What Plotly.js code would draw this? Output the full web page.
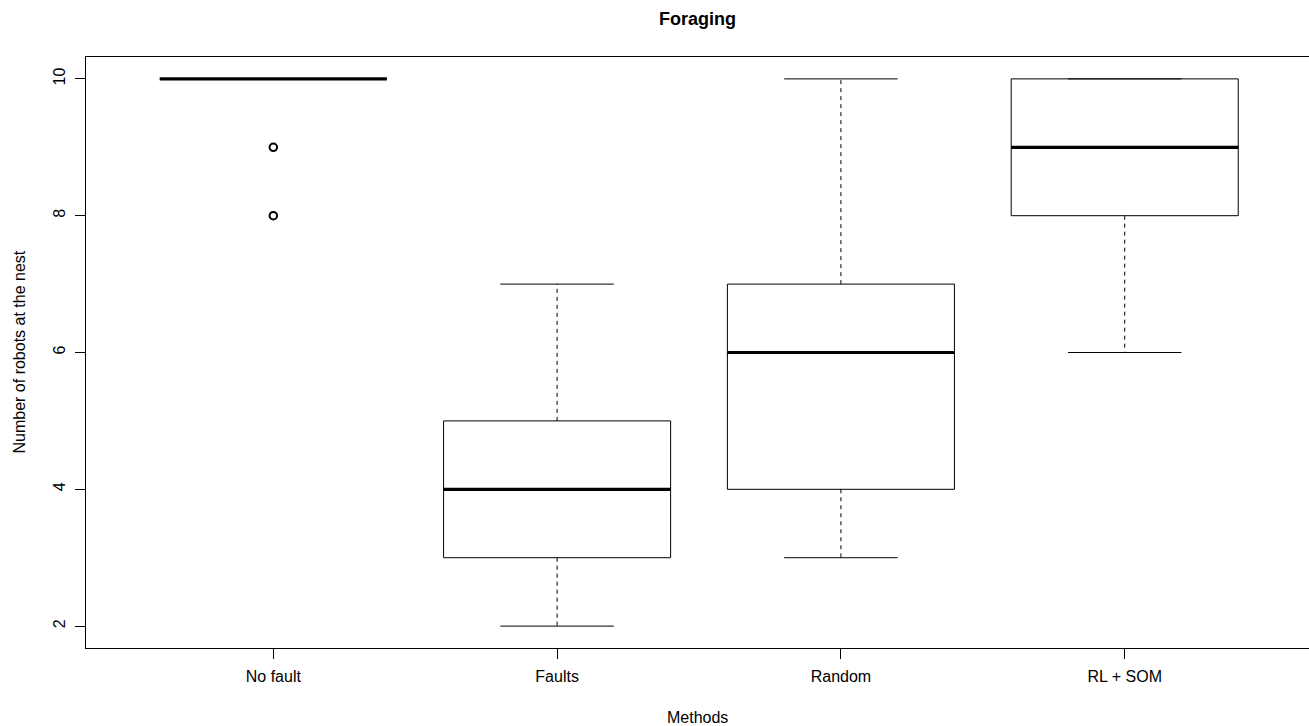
<!DOCTYPE html>
<html>
<head>
<meta charset="utf-8">
<script src="https://cdn.plot.ly/plotly-3.0.1.min.js"></script>
<style>
  html, body { margin: 0; padding: 0; background: #fff; }
  #chart { width: 1309px; height: 726px; }
</style>
</head>
<body>
<div id="chart"></div>
<script>
// Five-number summaries of robots at the nest, per method
const methods = ['No fault', 'Faults', 'Random', 'RL + SOM'];
const lowerWhisker = [10, 2, 3, 6];
const q1 = [10, 3, 4, 8];
const median = [10, 4, 6, 9];
const q3 = [10, 5, 7, 10];
const upperWhisker = [10, 7, 10, 10];

// Points beyond the whiskers
const outlierMethod = ['No fault', 'No fault'];
const outlierValue = [9, 8];

const yTicks = [2, 4, 6, 8, 10];

const FONT = 'Liberation Sans, Arial, Helvetica, sans-serif';
const BOX_HALF = 0.4;
const STAPLE_HALF = 0.2;

const traces = [];
function seg(x, y, width, dash) {
  traces.push({
    type: 'scatter', mode: 'lines', x: x, y: y,
    line: { color: '#000', width: width, dash: dash || 'solid' },
    hoverinfo: 'skip', showlegend: false
  });
}

methods.forEach(function (m, i) {
  const p = i + 1;
  // whiskers (dashed) and staples
  seg([p, p], [q3[i], upperWhisker[i]], 1, '4px,4px');
  seg([p, p], [q1[i], lowerWhisker[i]], 1, '4px,4px');
  seg([p - STAPLE_HALF, p + STAPLE_HALF], [upperWhisker[i], upperWhisker[i]], 1);
  seg([p - STAPLE_HALF, p + STAPLE_HALF], [lowerWhisker[i], lowerWhisker[i]], 1);
  // box
  seg([p - BOX_HALF, p + BOX_HALF, p + BOX_HALF, p - BOX_HALF, p - BOX_HALF],
      [q1[i], q1[i], q3[i], q3[i], q1[i]], 1);
  // median
  seg([p - BOX_HALF, p + BOX_HALF], [median[i], median[i]], 3.2);
});

traces.push({
  type: 'scatter', mode: 'markers',
  x: outlierMethod.map(function (m) { return methods.indexOf(m) + 1; }),
  y: outlierValue,
  marker: { symbol: 'circle-open', size: 7.5, color: '#000', line: { width: 2, color: '#000' } },
  hoverinfo: 'skip', showlegend: false
});

const layout = {
  width: 1309, height: 726,
  margin: { l: 86, r: 0, t: 57, b: 78, pad: 0 },
  paper_bgcolor: '#fff', plot_bgcolor: '#fff',
  font: { family: FONT, size: 16, color: '#000' },
  showlegend: false,
  title: {
    text: '<b>Foraging</b>',
    font: { family: FONT, size: 18, color: '#000' },
    xref: 'paper', x: 0.5, xanchor: 'center',
    yref: 'container', y: 1 - 19 / 726, yanchor: 'middle'
  },
  xaxis: {
    range: [0.34, 0.34 + 1223 / 283.8],
    tickvals: methods.map(function (m, i) { return i + 1; }),
    ticktext: methods,
    ticks: 'outside', ticklen: 10, tickwidth: 1, tickcolor: '#000',
    showline: true, linecolor: '#000', linewidth: 1, mirror: true,
    showgrid: false, zeroline: false,
    tickfont: { family: FONT, size: 16, color: '#000' },
    ticklabelstandoff: 4
  },
  yaxis: {
    range: [1.68, 10.32],
    tickvals: yTicks,
    ticktext: yTicks.map(String),
    tickangle: -90,
    ticks: 'outside', ticklen: 10, tickwidth: 1, tickcolor: '#000',
    showline: true, linecolor: '#000', linewidth: 1, mirror: false,
    showgrid: false, zeroline: false,
    tickfont: { family: FONT, size: 16, color: '#000' },
    ticklabelstandoff: 4
  },
  annotations: [
    {
      text: 'Methods', showarrow: false,
      xref: 'paper', x: 0.5, xanchor: 'center',
      yref: 'paper', y: -(717 - 648) / 591, yanchor: 'middle',
      font: { family: FONT, size: 16, color: '#000' }
    },
    {
      text: 'Number of robots at the nest', showarrow: false, textangle: -90,
      xref: 'paper', x: (19 - 86) / 1223, xanchor: 'center',
      yref: 'paper', y: 0.5, yanchor: 'middle',
      font: { family: FONT, size: 16, color: '#000' }
    }
  ]
};

Plotly.newPlot('chart', traces, layout, { displayModeBar: false, staticPlot: true });
</script>
</body>
</html>
